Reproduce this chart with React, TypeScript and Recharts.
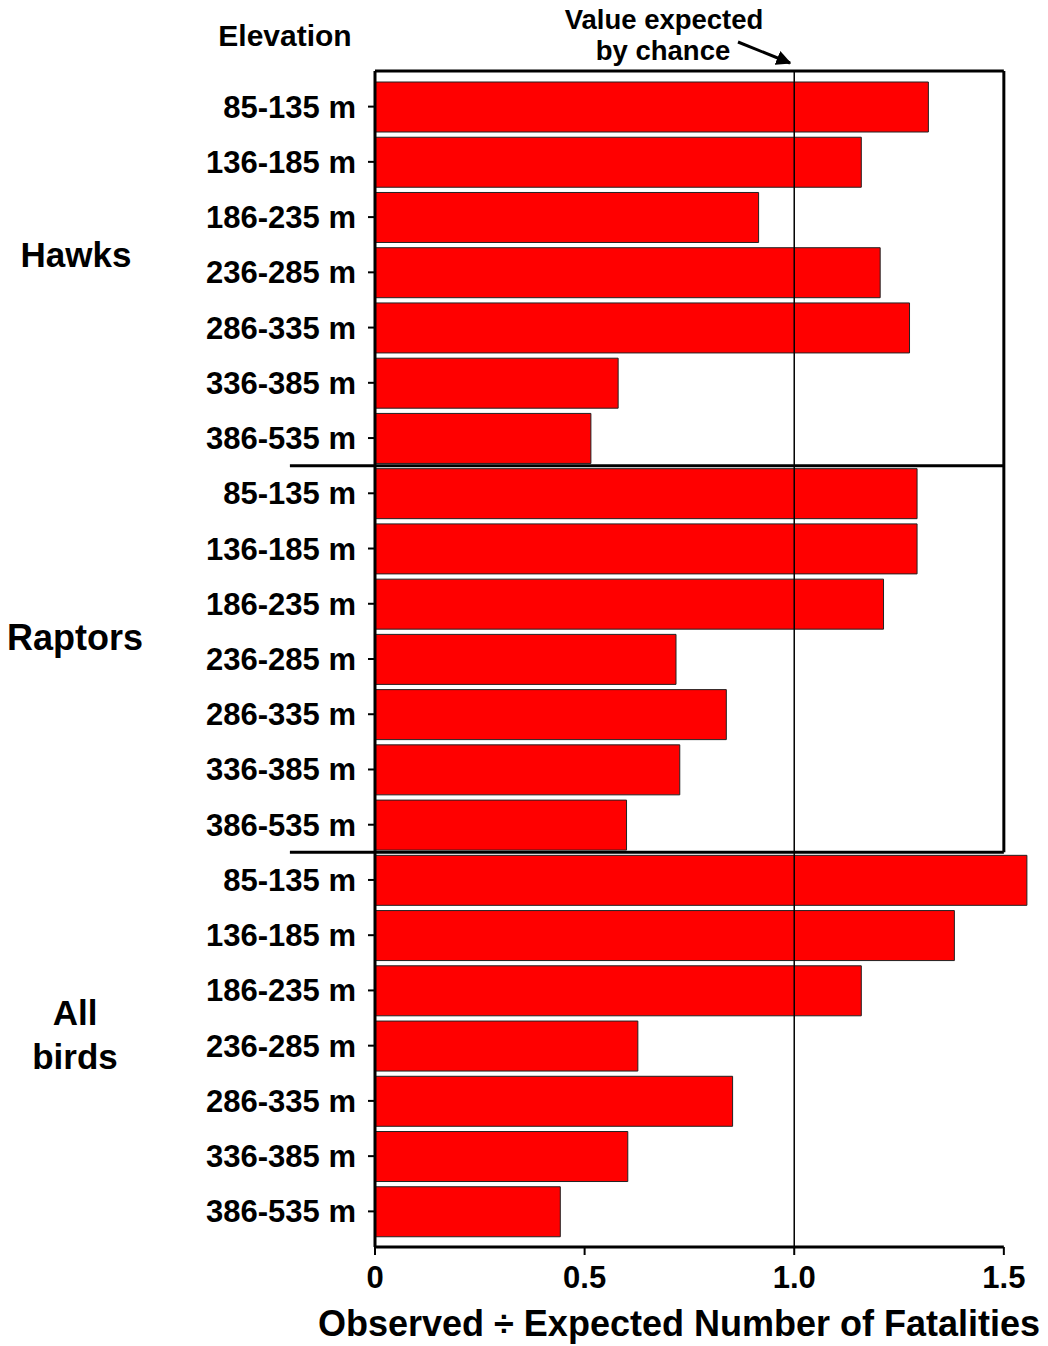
import React from "react"
import {
  BarChart,
  Bar,
  XAxis,
  YAxis,
  ReferenceLine,
} from "recharts"

const FONT = "'Liberation Sans', Arial, Helvetica, sans-serif"

const elevations = [
  "85-135 m",
  "136-185 m",
  "186-235 m",
  "236-285 m",
  "286-335 m",
  "336-385 m",
  "386-535 m",
]
const groups = ["Hawks", "Raptors", "All birds"]
const hawks = [1.32, 1.16, 0.915, 1.205, 1.275, 0.58, 0.515]
const raptors = [1.293, 1.293, 1.213, 0.718, 0.838, 0.727, 0.6]
const allBirds = [1.555, 1.382, 1.16, 0.627, 0.853, 0.603, 0.442]
const xTicks = [0, 0.5, 1, 1.5]

const seriesByGroup = [hawks, raptors, allBirds]
const data = groups.flatMap((g, gi) =>
  elevations.map((el, i) => ({
    key: `${g}|${el}`,
    row: gi * elevations.length + i,
    value: seriesByGroup[gi][i],
  }))
)

const thick = { stroke: "#000", strokeWidth: 3 }
// helper axis: one unit per bar row, row centres line up with the bands
const LAST_ROW = data.length - 1
const TOP = -0.645
const BOTTOM = LAST_ROW + 0.645
const SPLIT1 = elevations.length - 0.5
const SPLIT2 = elevations.length * 2 - 0.5

export default function App() {
  return (
    <div style={{ position: "absolute", left: 0, top: 0, background: "#fff" }}>
      <BarChart
        width={1048}
        height={1346}
        data={data}
        layout="vertical"
        margin={{ top: 71, right: 19, bottom: 0, left: 0 }}
        barSize={50}
        style={{ fontFamily: FONT }}
      >
        <defs>
          <marker id="arrowHead" viewBox="0 0 10 10" refX="9" refY="5" markerWidth="5" markerHeight="5" orient="auto">
            <path d="M0,0 L10,5 L0,10 z" fill="#000" />
          </marker>
        </defs>
        <XAxis
          type="number"
          domain={[0, 1.56]}
          ticks={xTicks}
          axisLine={false}
          tickLine={{ stroke: "#000", strokeWidth: 2 }}
          tickSize={8}
          tickMargin={11}
          height={99}
          tickFormatter={(v: number) => (v === 0 ? "0" : v.toFixed(1))}
          tick={{ fill: "#000", fontSize: 31, fontWeight: "bold", fontFamily: FONT }}
          label={{
            value: "Observed ÷ Expected Number of Fatalities",
            position: "insideBottom",
            offset: 10,
            dx: -23,
            fill: "#000",
            fontSize: 36,
            fontWeight: "bold",
            fontFamily: FONT,
          }}
        />
        <YAxis
          yAxisId="cat"
          type="category"
          dataKey="key"
          width={375}
          padding={{ top: 8, bottom: 8 }}
          axisLine={thick}
          tickLine={{ stroke: "#000", strokeWidth: 2 }}
          tickSize={7}
          tickMargin={12}
          interval={0}
          tickFormatter={(v: string) => v.split("|")[1]}
          tick={{ fill: "#000", fontSize: 31, fontWeight: "bold", fontFamily: FONT }}
        />
        <YAxis
          yAxisId="pos"
          type="number"
          dataKey="row"
          domain={[0, LAST_ROW]}
          allowDataOverflow
          padding={{ top: 35.6, bottom: 35.6 }}
          hide
        />
        <Bar
          yAxisId="cat"
          dataKey="value"
          fill="#ff0000"
          stroke="#222"
          strokeWidth={1}
          isAnimationActive={false}
        />
        <ReferenceLine yAxisId="pos" x={1} stroke="#000" strokeWidth={1.5} />
        <ReferenceLine
          yAxisId="pos"
          ifOverflow="visible"
          segment={[{ x: 0, y: TOP }, { x: 1.5, y: TOP }]}
          {...thick}
        />
        <ReferenceLine
          yAxisId="pos"
          ifOverflow="visible"
          segment={[{ x: 0, y: BOTTOM }, { x: 1.5, y: BOTTOM }]}
          {...thick}
        />
        <ReferenceLine
          yAxisId="pos"
          ifOverflow="visible"
          segment={[{ x: 1.5, y: TOP }, { x: 1.5, y: SPLIT2 }]}
          {...thick}
        />
        <ReferenceLine
          yAxisId="pos"
          ifOverflow="visible"
          segment={[{ x: -0.203, y: SPLIT1 }, { x: 1.5, y: SPLIT1 }]}
          {...thick}
        />
        <ReferenceLine
          yAxisId="pos"
          ifOverflow="visible"
          segment={[{ x: -0.203, y: SPLIT2 }, { x: 1.5, y: SPLIT2 }]}
          {...thick}
        />

        {/* annotations */}
        <g fill="#000" fontFamily={FONT} fontWeight="bold" textAnchor="middle">
          <text x={285} y={46} fontSize={30}>Elevation</text>
          <text x={664} y={29} fontSize={27.5}>Value expected</text>
          <text x={663} y={60} fontSize={27.5}>by chance</text>
          <text x={76} y={267} fontSize={35}>Hawks</text>
          <text x={75} y={650} fontSize={36}>Raptors</text>
          <text x={75} y={1025} fontSize={35}>All</text>
          <text x={75} y={1069} fontSize={35}>birds</text>
        </g>
        <line x1={738} y1={42} x2={790} y2={63} stroke="#000" strokeWidth={3} markerEnd="url(#arrowHead)" />
      </BarChart>
    </div>
  )
}
